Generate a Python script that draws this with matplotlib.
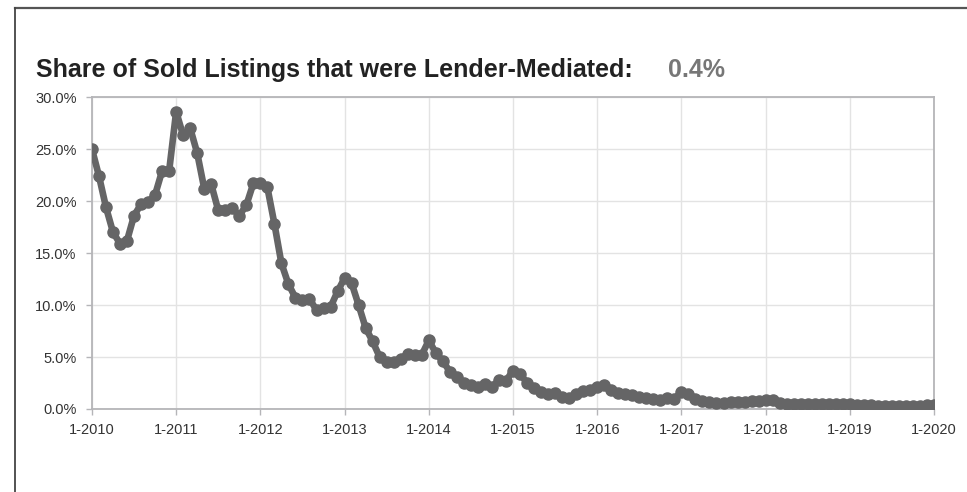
"""
plot.py
Share of sold listings that were lender-mediated, monthly 1-2010 to 1-2020.
"""

import numpy as np
import matplotlib
matplotlib.use('Agg')
import matplotlib.pyplot as plt
from matplotlib.lines import Line2D
from matplotlib.ticker import FuncFormatter

# monthly share (%) starting 1-2010
share = [
    25.0, 22.4, 19.4, 17.0, 15.9, 16.2, 18.6, 19.7, 19.9, 20.6, 22.9, 22.9,   # 2010
    28.6, 26.3, 27.0, 24.6, 21.2, 21.6, 19.1, 19.1, 19.3, 18.6, 19.6, 21.7,   # 2011
    21.7, 21.3, 17.8, 14.0, 12.0, 10.7, 10.5, 10.6, 9.5, 9.7, 9.8, 11.3,      # 2012
    12.6, 12.1, 10.0, 7.8, 6.5, 5.0, 4.5, 4.5, 4.8, 5.3, 5.2, 5.2,            # 2013
    6.6, 5.4, 4.6, 3.6, 3.1, 2.5, 2.3, 2.1, 2.4, 2.1, 2.8, 2.7,               # 2014
    3.7, 3.4, 2.5, 2.0, 1.6, 1.4, 1.5, 1.2, 1.1, 1.4, 1.7, 1.8,               # 2015
    2.1, 2.3, 1.8, 1.5, 1.4, 1.3, 1.2, 1.1, 1.0, 0.9, 1.1, 1.0,               # 2016
    1.6, 1.4, 1.0, 0.8, 0.7, 0.6, 0.6, 0.7, 0.7, 0.7, 0.8, 0.8,               # 2017
    0.9, 0.9, 0.6, 0.5, 0.5, 0.5, 0.5, 0.5, 0.5, 0.5, 0.5, 0.5,               # 2018
    0.5, 0.4, 0.4, 0.4, 0.3, 0.3, 0.3, 0.3, 0.3, 0.3, 0.3, 0.4,               # 2019
    0.4,                                                                      # 1-2020
]
year_labels = ['1-2010', '1-2011', '1-2012', '1-2013', '1-2014', '1-2015',
               '1-2016', '1-2017', '1-2018', '1-2019', '1-2020']
y_ticks = [0, 5, 10, 15, 20, 25, 30]

title = 'Share of Sold Listings that were Lender-Mediated:'
latest = '0.4%'

LINE = '#656566'
GRID = '#e3e3e3'
SPINE = '#b5b5b8'
TEXT = '#333333'
FONT = ['Liberation Sans', 'DejaVu Sans']


def draw_chart(ax):
    """Plot the monthly series with the year grid."""
    months = np.arange(len(share))
    ax.plot(months, share, color=LINE, lw=4.8, marker='o', ms=8,
            mec=LINE, mfc=LINE, solid_joinstyle='round', zorder=3)

    ax.set_xlim(0, len(share) - 1)
    ax.set_ylim(0, 30)
    ax.set_xticks(np.arange(0, len(share), 12))
    ax.set_xticklabels(year_labels)
    ax.set_yticks(y_ticks)
    ax.yaxis.set_major_formatter(FuncFormatter(lambda v, p: '%.1f%%' % v))

    ax.grid(True, color=GRID, lw=1.0)
    ax.set_axisbelow(True)
    for side in ['left', 'right', 'top', 'bottom']:
        ax.spines[side].set_color(SPINE)
        ax.spines[side].set_linewidth(1.3)
    ax.tick_params(colors=SPINE, length=4, width=1)
    for lab in ax.get_xticklabels() + ax.get_yticklabels():
        lab.set_color(TEXT)
        lab.set_fontsize(10.5)
        lab.set_family(FONT)
    ax.tick_params(axis='x', pad=6)
    ax.tick_params(axis='y', pad=7)
    return ax


if __name__ == '__main__':
    fig = plt.figure(figsize=(9.67, 4.92), dpi=100)
    ax = fig.add_axes([0.0951, 0.1687, 0.8708, 0.6341])
    draw_chart(ax)

    # title and latest value
    fig.text(0.037, 0.857, title, fontsize=18, fontweight='bold',
             family=FONT, color='#222222', va='center', ha='left')
    fig.text(0.691, 0.857, latest, fontsize=18, fontweight='bold',
             family=FONT, color='#777777', va='center', ha='left')

    # frame lines on top and left edge
    fig.add_artist(Line2D([0.0155, 1.0], [0.983, 0.983], color='#555555',
                          lw=1.6, transform=fig.transFigure))
    fig.add_artist(Line2D([0.0155, 0.0155], [0.0, 0.983], color='#444444',
                          lw=1.3, transform=fig.transFigure))

    fig.savefig('out.png', dpi=100)
